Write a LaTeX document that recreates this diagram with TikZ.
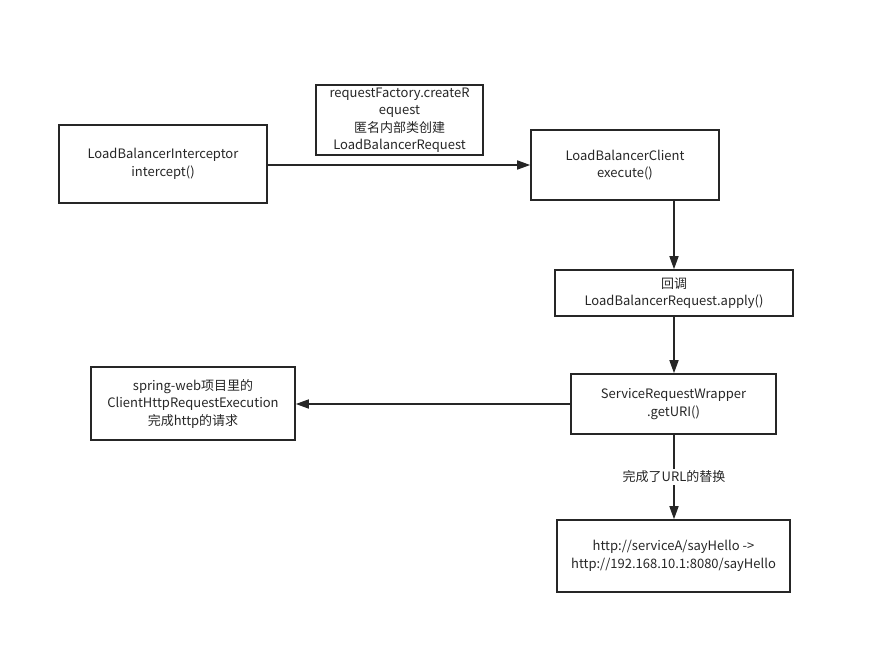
\documentclass[tikz,border=0pt]{standalone}
\usepackage{fontspec}
\setmainfont{Noto Sans CJK SC}
\usetikzlibrary{arrows.meta}
\begin{document}
\begin{tikzpicture}[x=1pt,y=-1pt,
  box/.style={draw=black!85,line width=1.6pt,align=center,inner sep=0pt,font=\fontsize{13}{17.5}\selectfont,text=black!85},
  conn/.style={draw=black!85,line width=1.6pt,-{Triangle[length=13pt,width=9pt]}},
  lbl/.style={fill=white,font=\fontsize{13}{17.5}\selectfont,text=black!85,inner sep=2pt}]
\useasboundingbox (0,0) rectangle (886,645);
\node[box,minimum width=208pt,minimum height=78pt] (inter) at (163,164) {LoadBalancerInterceptor\\intercept()};
\node[box,minimum width=167pt,minimum height=70pt] (note) at (399.5,120) {requestFactory.createR\\equest\\匿名内部类创建\\LoadBalancerRequest};
\node[box,minimum width=188pt,minimum height=70pt] (client) at (625,165) {LoadBalancerClient\\execute()};
\node[box,minimum width=238pt,minimum height=46pt] (apply) at (674,293) {回调\\LoadBalancerRequest.apply()};
\node[box,minimum width=205pt,minimum height=60pt] (wrap) at (673.5,404) {ServiceRequestWrapper\\.getURI()};
\node[box,minimum width=204pt,minimum height=73pt] (spring) at (193,403.5) {spring-web项目里的\\ClientHttpRequestExecution\\完成http的请求};
\node[box,minimum width=233pt,minimum height=72pt] (url) at (673.5,556) {http://serviceA/sayHello ->\\http://192.168.10.1:8080/sayHello};
\draw[conn] (inter.east |- 0,165) -- (client.west |- 0,165);
\draw[conn] (client.south -| 674,0) -- (apply.north -| 674,0);
\draw[conn] (apply.south -| 674,0) -- (wrap.north -| 674,0);
\draw[conn] (wrap.west) -- (spring.east |- wrap.west);
\draw[conn] (wrap.south -| 674,0) -- node[lbl] (lab) {完成了URL的替换} (url.north -| 674,0);
\end{tikzpicture}
\end{document}
